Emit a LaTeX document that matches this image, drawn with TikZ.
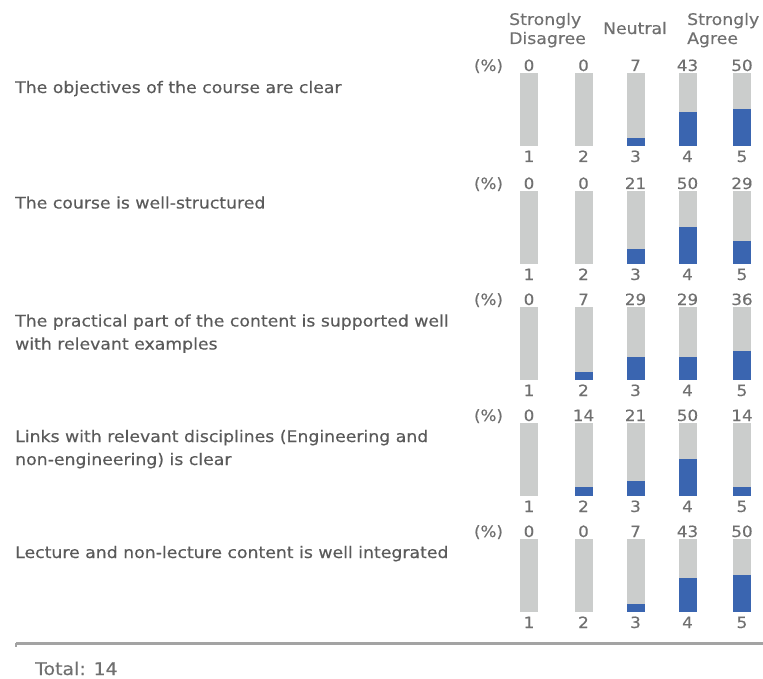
\documentclass[tikz,border=0pt]{standalone}
\usepackage{fontspec}
\setmainfont[FakeStretch=1.08,FakeBold=0.35]{DejaVu Sans}
\definecolor{qtext}{HTML}{5A5A5A}
\definecolor{ltext}{HTML}{707070}
\definecolor{bargray}{HTML}{CBCDCC}
\definecolor{barblue}{HTML}{3A65B0}
\definecolor{rulegray}{HTML}{A3A3A3}
\newcommand\stacklines[3]{\vtop{\baselineskip=#1\lineskiplimit=-50pt\hbox{#2}\hbox{#3}}}
\expandafter\def\csname bhx7\endcsname{8}
\expandafter\def\csname bhx14\endcsname{9.5}
\expandafter\def\csname bhx21\endcsname{15.5}
\expandafter\def\csname bhx29\endcsname{23}
\expandafter\def\csname bhx36\endcsname{29}
\expandafter\def\csname bhx43\endcsname{34}
\expandafter\def\csname bhx50\endcsname{37.5}
\begin{document}
\begin{tikzpicture}[x=1pt,y=-1pt,
  question/.style={anchor=base west, inner sep=0pt, text=qtext, font=\fontsize{16}{23}\selectfont},
  header/.style={anchor=base west, inner sep=0pt, text=ltext, font=\fontsize{16}{19}\selectfont},
  num/.style={anchor=base, inner sep=0pt, text=ltext, font=\fontsize{15.5}{18}\selectfont},
  graybar/.style={fill=bargray, draw=none, minimum width=18pt, minimum height=73pt, inner sep=0pt, anchor=north},
  bluebar/.style={fill=barblue, draw=none, minimum width=18pt, inner sep=0pt, anchor=south},
  baseline rule/.style={draw=rulegray, line width=3pt}
]
\useasboundingbox (0,0) rectangle (763,679);

% column headers
\node[header] (hdis) at (509,25) {\stacklines{19pt}{Strongly}{Disagree}};
\node[header, anchor=base] (hneu) at (635,34) {Neutral};
\node[header] (hagr) at (687,25) {\stacklines{19pt}{Strongly}{Agree}};

% questions
\node[question] (q1) at (15,93) {The objectives of the course are clear};
\node[question] (q2) at (15,208.5) {The course is well-structured};
\node[question] (q3) at (15,326.5) {\stacklines{23pt}{The practical part of the content is supported well}{with relevant examples}};
\node[question] (q4) at (15,442) {\stacklines{23pt}{Links with relevant disciplines (Engineering and}{non-engineering) is clear}};
\node[question] (q5) at (15,558) {Lecture and non-lecture content is well integrated};

% bars
\foreach \g/\ty/\vals in {1/73/{0,0,7,43,50}, 2/191/{0,0,21,50,29}, 3/307/{0,7,29,29,36}, 4/423/{0,14,21,50,14}, 5/539/{0,0,7,43,50}} {
  \node[num] (pct\g) at (488.5,\ty-2) {(\%)};
  \foreach \v [count=\i] in \vals {
    \pgfmathsetmacro{\bx}{{529,583.5,635.5,687.5,742}[\i-1]}
    \node[graybar] (bar\g-\i) at (\bx,\ty) {};
    \ifnum\v>0
      \edef\hh{\csname bhx\v\endcsname}
      \node[bluebar, minimum height=\hh pt] (fill\g-\i) at (bar\g-\i.south) {};
    \fi
    \node[num] (val\g-\i) at (\bx,\ty-2) {\v};
    \node[num] (lvl\g-\i) at (\bx,\ty+89) {\i};
  }
}

% bottom rule and total
\coordinate (rl) at (16,643.3);
\coordinate (rr) at (763,643.3);
\draw[baseline rule] (rl) -- (rr);
\draw[draw=rulegray, line width=2pt] (rl) -- ++(0,3.5);
\node[question, text=ltext, font=\fontsize{17.5}{20}\selectfont] (total) at (35,675) {Total:\hspace{0.45em}14};
\end{tikzpicture}
\end{document}
